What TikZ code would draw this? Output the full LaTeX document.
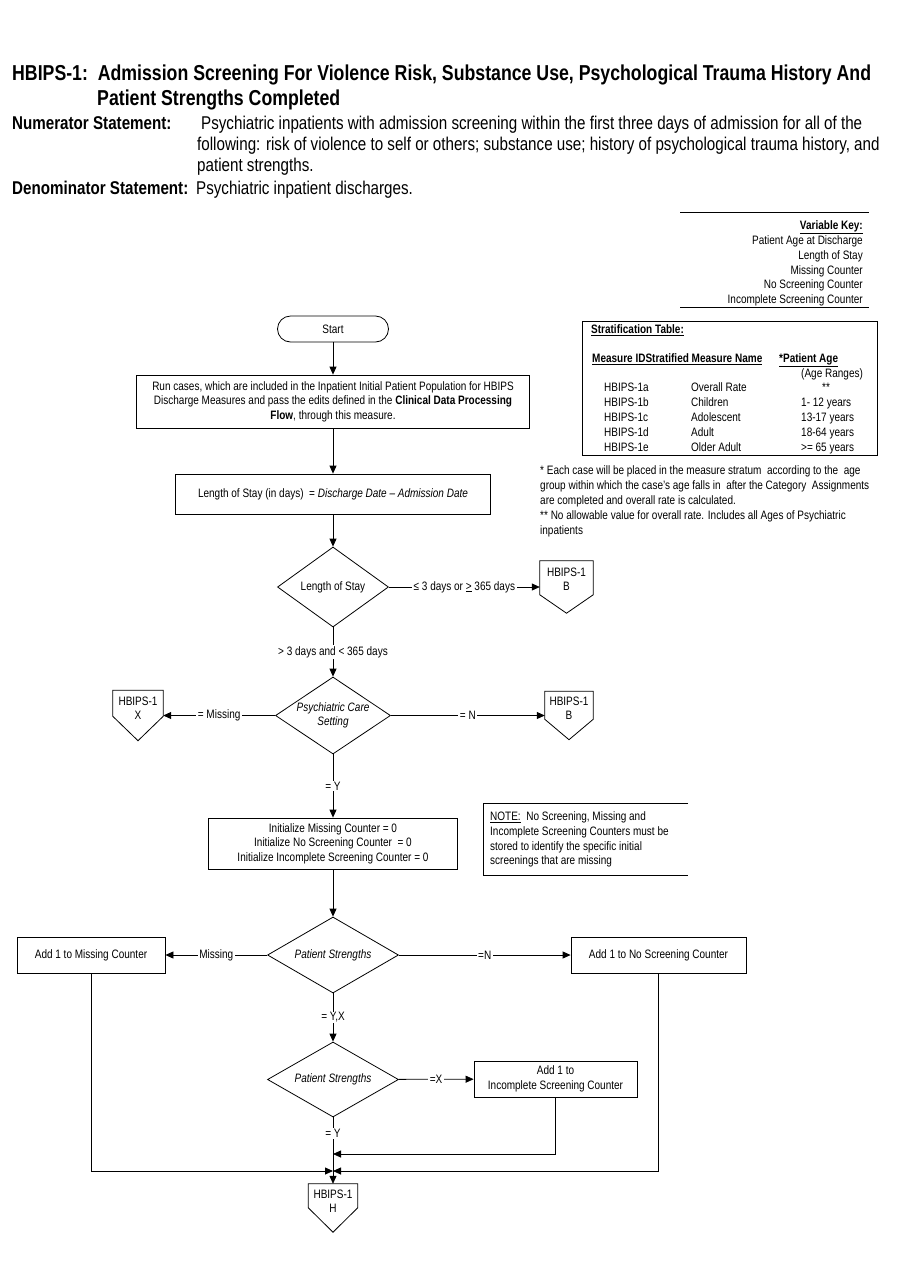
\documentclass[tikz,border=0pt]{standalone}
\usepackage{fontspec}
\setmainfont{Liberation Sans}[FakeStretch=0.82]
\usetikzlibrary{shapes.geometric,arrows.meta}
\newcommand\smf{\fontsize{12.2}{14.6}\selectfont}
\newcommand\hdf{\fontsize{18.5}{21.5}\selectfont}
\newcommand\ttf{\fontsize{21.6}{25}\selectfont\bfseries}
\begin{document}
\begin{tikzpicture}[x=1pt,y=-1pt,
  every node/.style={inner sep=0pt},
  box/.style={draw, line width=0.8pt, align=center, font=\smf},
  dia/.style={draw, diamond, line width=0.8pt, align=center, font=\smf},
  ln/.style={line width=0.8pt},
  arr/.style={line width=0.8pt, -{Triangle[length=8pt,width=7pt]}},
  lab/.style={fill=white, inner xsep=1.5pt, inner ysep=1pt, font=\smf},
  txt/.style={anchor=base west, font=\smf},
  txr/.style={anchor=base east, font=\smf},
  hd/.style={anchor=base west, font=\hdf},
  ofp/.style={draw=none}]
\useasboundingbox[fill=white] (0,0) rectangle (900,1286);

% ---------- header ----------
\node[anchor=base west, font=\ttf] (tl1) at (12,80) {HBIPS-1:\ \ Admission Screening For Violence Risk, Substance Use, Psychological Trauma History And};
\node[anchor=base west, font=\ttf] (tl2) at (97,105) {Patient Strengths Completed};
\node[hd, font=\hdf\bfseries] (nl) at (12,129) {Numerator Statement:};
\node[hd] (n1) at (201,129) {Psychiatric inpatients with admission screening within the first three days of admission for all of the};
\node[hd] (n2) at (197,150) {following: risk of violence to self or others; substance use; history of psychological trauma history, and};
\node[hd] (n3) at (197,171.5) {patient strengths.};
\node[hd, font=\hdf\bfseries] (dl) at (12,194) {Denominator Statement:};
\node[hd] (d1t) at (196,194) {Psychiatric inpatient discharges.};

% ---------- variable key ----------
\coordinate (vk1) at (680,212); \coordinate (vk2) at (869,212);
\coordinate (vk3) at (680,307); \coordinate (vk4) at (869,307);
\draw[ln] (vk1) -- (vk2);
\draw[ln] (vk3) -- (vk4);
\node[txr, font=\smf\bfseries] (vk0) at (863,229.5) {\underline{Variable Key:}};
\node[txr] (vka) at (863,244.5) {Patient Age at Discharge};
\node[txr] (vkb) at (863,259.5) {Length of Stay};
\node[txr] (vkc) at (863,274.5) {Missing Counter};
\node[txr] (vkd) at (863,288.5) {No Screening Counter};
\node[txr] (vke) at (863,303.5) {Incomplete Screening Counter};

% ---------- stratification table ----------
\node[draw, line width=0.8pt, minimum width=295pt, minimum height=134pt] (st) at (729.5,388) {};
\node[txt, font=\smf\bfseries] (st0) at (591,333.4) {\underline{Stratification Table:}};
\node[txt, font=\smf\bfseries] (st1) at (592,362.4) {\underline{Measure IDStratified Measure Name}};
\node[txt, font=\smf\bfseries] (st2) at (779,362.4) {\underline{*Patient Age}};
\node[txt] (st3) at (801,377.4) {(Age Ranges)};
\node[txt] (r1a) at (604,391.4) {HBIPS-1a};
\node[txt] (r1b) at (691,391.4) {Overall Rate};
\node[anchor=base, font=\smf] (r1c) at (826,391.4) {**};
\node[txt] (r2a) at (604,406.4) {HBIPS-1b};
\node[txt] (r2b) at (691,406.4) {Children};
\node[txt] (r2c) at (801,406.4) {1- 12 years};
\node[txt] (r3a) at (604,421.4) {HBIPS-1c};
\node[txt] (r3b) at (691,421.4) {Adolescent};
\node[txt] (r3c) at (801,421.4) {13-17 years};
\node[txt] (r4a) at (604,436.4) {HBIPS-1d};
\node[txt] (r4b) at (691,436.4) {Adult};
\node[txt] (r4c) at (801,436.4) {18-64 years};
\node[txt] (r5a) at (604,451.4) {HBIPS-1e};
\node[txt] (r5b) at (691,451.4) {Older Adult};
\node[txt] (r5c) at (801,451.4) {>= 65 years};

% ---------- footnotes ----------
\node[txt] (f1) at (540,474.5) {* Each case will be placed in the measure stratum\ \ according to the\ \ age};
\node[txt] (f2) at (540,489.5) {group within which the case’s age falls in\ \ after the Category\ \ Assignments};
\node[txt] (f3) at (540,504.5) {are completed and overall rate is calculated.};
\node[txt] (f4) at (540,519.5) {** No allowable value for overall rate. Includes all Ages of Psychiatric};
\node[txt] (f5) at (540,534.5) {inpatients};

% ---------- note ----------
\coordinate (nb1) at (688,803); \coordinate (nb2) at (483,803);
\coordinate (nb3) at (483,875); \coordinate (nb4) at (688,875);
\draw[ln] (nb1) -- (nb2) -- (nb3) -- (nb4);
\node[txt] (nt1) at (490,820.4) {\underline{NOTE:}\ \ No Screening, Missing and};
\node[txt] (nt2) at (490,835.4) {Incomplete Screening Counters must be};
\node[txt] (nt3) at (490,850.4) {stored to identify the specific initial};
\node[txt] (nt4) at (490,864.4) {screenings that are missing};

% ---------- flowchart ----------
\node[box, rounded corners=13pt, minimum width=111pt, minimum height=26pt] (start) at (333,329) {Start};
\node[box, minimum width=393pt, minimum height=53pt] (run) at (333,401.5)
  {Run cases, which are included in the Inpatient Initial Patient Population for HBIPS\\
   Discharge Measures and pass the edits defined in the \textbf{Clinical Data Processing}\\
   \textbf{Flow}, through this measure.};
\node[box, minimum width=315pt, minimum height=40pt] (los) at (333,494)
  {Length of Stay (in days)\ \ = \textit{Discharge Date – Admission Date}};
\node[dia, shape aspect=1.39, minimum width=111pt, minimum height=80pt] (dlos) at (333,587) {Length of Stay};
\node[dia, shape aspect=1.5, font=\smf\itshape, minimum width=115pt, minimum height=77pt] (dpc) at (333,715.5) {Psychiatric Care\\Setting};
\node[box, minimum width=249pt, minimum height=51pt] (init) at (333,843.5)
  {Initialize Missing Counter = 0\\Initialize No Screening Counter\ \ = 0\\Initialize Incomplete Screening Counter = 0};
\node[dia, shape aspect=1.72, font=\smf\itshape, minimum width=131pt, minimum height=76pt] (dps1) at (333,955) {Patient Strengths};
\node[box, minimum width=148pt, minimum height=36pt] (mbox) at (91,955) {Add 1 to Missing Counter};
\node[box, minimum width=175pt, minimum height=36pt] (nbox) at (658.5,955) {Add 1 to No Screening Counter};
\node[dia, shape aspect=1.74, font=\smf\itshape, minimum width=131pt, minimum height=75pt] (dps2) at (333,1079.5) {Patient Strengths};
\node[box, minimum width=163pt, minimum height=36pt] (ibox) at (555.5,1079) {Add 1 to\\Incomplete Screening Counter};

% off-page connectors
\node[ofp, minimum width=53pt, minimum height=52pt] (b1) at (566.5,587) {};
\draw[ln] (b1.north west) -- (b1.north east) -- ([yshift=-34pt]b1.north east) -- (b1.south) -- ([yshift=-34pt]b1.north west) -- cycle;
\node[align=center, font=\smf] (b1t) at ([yshift=-18.5pt]b1.north) {HBIPS-1\\B};

\node[ofp, minimum width=50pt, minimum height=50pt] (x1) at (138,715.5) {};
\draw[ln] (x1.north west) -- (x1.north east) -- ([yshift=-26pt]x1.north east) -- (x1.south) -- ([yshift=-26pt]x1.north west) -- cycle;
\node[align=center, font=\smf] (x1t) at ([yshift=-18pt]x1.north) {HBIPS-1\\X};

\node[ofp, minimum width=48pt, minimum height=48pt] (b2) at (569,715.5) {};
\draw[ln] (b2.north west) -- (b2.north east) -- ([yshift=-28pt]b2.north east) -- (b2.south) -- ([yshift=-28pt]b2.north west) -- cycle;
\node[align=center, font=\smf] (b2t) at ([yshift=-17pt]b2.north) {HBIPS-1\\B};

\node[ofp, minimum width=49pt, minimum height=48pt] (h1) at (333,1208) {};
\draw[ln] (h1.north west) -- (h1.north east) -- ([yshift=-24pt]h1.north east) -- (h1.south) -- ([yshift=-24pt]h1.north west) -- cycle;
\node[align=center, font=\smf] (h1t) at ([yshift=-17.5pt]h1.north) {HBIPS-1\\H};

\coordinate (j1) at (333,1171);
\coordinate (j2) at (333,1154);

% connectors
\draw[arr] (start) -- (run);
\draw[arr] (run) -- (los);
\draw[arr] (los) -- (dlos);
\draw[arr] (dlos) -- node[lab] {≤ 3 days or \underline{>} 365 days} (b1);
\draw[arr] (dlos) -- node[lab] {> 3 days and < 365 days} (dpc);
\draw[arr] (dpc) -- node[lab] {= Missing} (x1);
\draw[arr] (dpc) -- node[lab] {= N} (b2);
\draw[arr] (dpc) -- node[lab] {= Y} (init);
\draw[arr] (init) -- (dps1);
\draw[arr] (dps1) -- node[lab] {Missing} (mbox);
\draw[arr] (dps1) -- node[lab] {=N} (nbox);
\draw[arr] (dps1) -- node[lab] {= Y,X} (dps2);
\draw[arr] (dps2) -- node[lab] {=X} (ibox);
\draw[arr] (dps2) -- node[lab, pos=0.24] {= Y} (h1);
\draw[arr] (ibox.south) |- (j2);
\draw[arr] (mbox.south) |- (j1);
\draw[arr] (nbox.south) |- (j1);
\end{tikzpicture}
\end{document}
